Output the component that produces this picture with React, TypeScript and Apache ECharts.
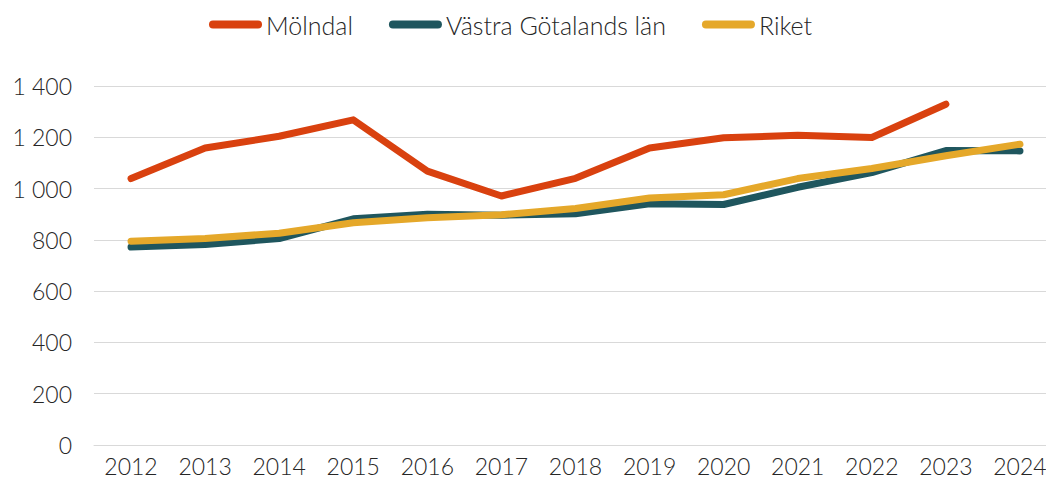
import React, { useEffect, useRef } from "react";
import * as echarts from "echarts";

const years = ["2012","2013","2014","2015","2016","2017","2018","2019","2020","2021","2022","2023","2024"];
const molndal = [1039, 1158, 1204, 1268, 1068, 971, 1040, 1158, 1198, 1208, 1199, 1329, null];
const vastraGotaland = [772, 782, 805, 882, 900, 896, 902, 941, 938, 1005, 1062, 1148, 1147];
const riket = [795, 805, 826, 867, 886, 898, 922, 963, 976, 1039, 1078, 1128, 1173];

const seriesNames = ["Mölndal", "Västra Götalands län", "Riket"];
const colors = ["#D9410F", "#1F565E", "#E5A82A"];

const FONT = "Lato";

function fmt(v: number): string {
  if (v >= 1000) {
    const r = String(v % 1000).padStart(3, "0");
    return Math.floor(v / 1000) + " " + r;
  }
  return String(v);
}

export default function App() {
  const ref = useRef<HTMLDivElement>(null);
  useEffect(() => {
    if (!ref.current) return;
    const chart = echarts.init(ref.current, null, { renderer: "svg" });
    const datasets = [molndal, vastraGotaland, riket];
    const legendIcon = "path://M4,0 H49 A4,4 0 0 1 49,8 H4 A4,4 0 0 1 4,0 Z";
    chart.setOption({
      animation: false,
      backgroundColor: "#ffffff",
      textStyle: { fontFamily: FONT },
      legend: {
        top: 7,
        left: 204,
        width: 800,
        itemWidth: 53,
        itemHeight: 8,
        itemGap: 36,
        icon: legendIcon,
        textStyle: { fontFamily: FONT, fontSize: 25, color: "#262626", fontWeight: 300, padding: [0, 0, 0, -1] },
        data: seriesNames.map((n, i) => ({ name: n, itemStyle: { color: colors[i] } })),
      },
      grid: { left: 94, right: 0, top: 86, bottom: 41, containLabel: false },
      xAxis: {
        type: "category",
        data: years,
        boundaryGap: true,
        axisLine: { lineStyle: { color: "#d9d9d9", width: 1 } },
        axisTick: { show: false },
        axisLabel: { fontFamily: FONT, fontSize: 23, color: "#262626", fontWeight: 300, margin: 9 },
      },
      yAxis: {
        type: "value",
        min: 0,
        max: 1400,
        interval: 200,
        axisLine: { show: false },
        axisTick: { show: false },
        splitLine: { lineStyle: { color: "#d9d9d9", width: 1 } },
        axisLabel: {
          fontFamily: FONT,
          fontSize: 23,
          color: "#262626",
          fontWeight: 300,
          margin: 22,
          formatter: (v: number) => fmt(v),
        },
      },
      series: datasets.map((d, i) => ({
        name: seriesNames[i],
        type: "line",
        data: d,
        showSymbol: false,
        symbol: "none",
        color: colors[i],
        lineStyle: { color: colors[i], width: 7, cap: "round", join: "round" },
        z: 2 + i,
      })),
    });
    return () => chart.dispose();
  }, []);
  return <div ref={ref} style={{ position: "fixed", left: 0, top: 0, width: 1057, height: 486 }} />;
}
